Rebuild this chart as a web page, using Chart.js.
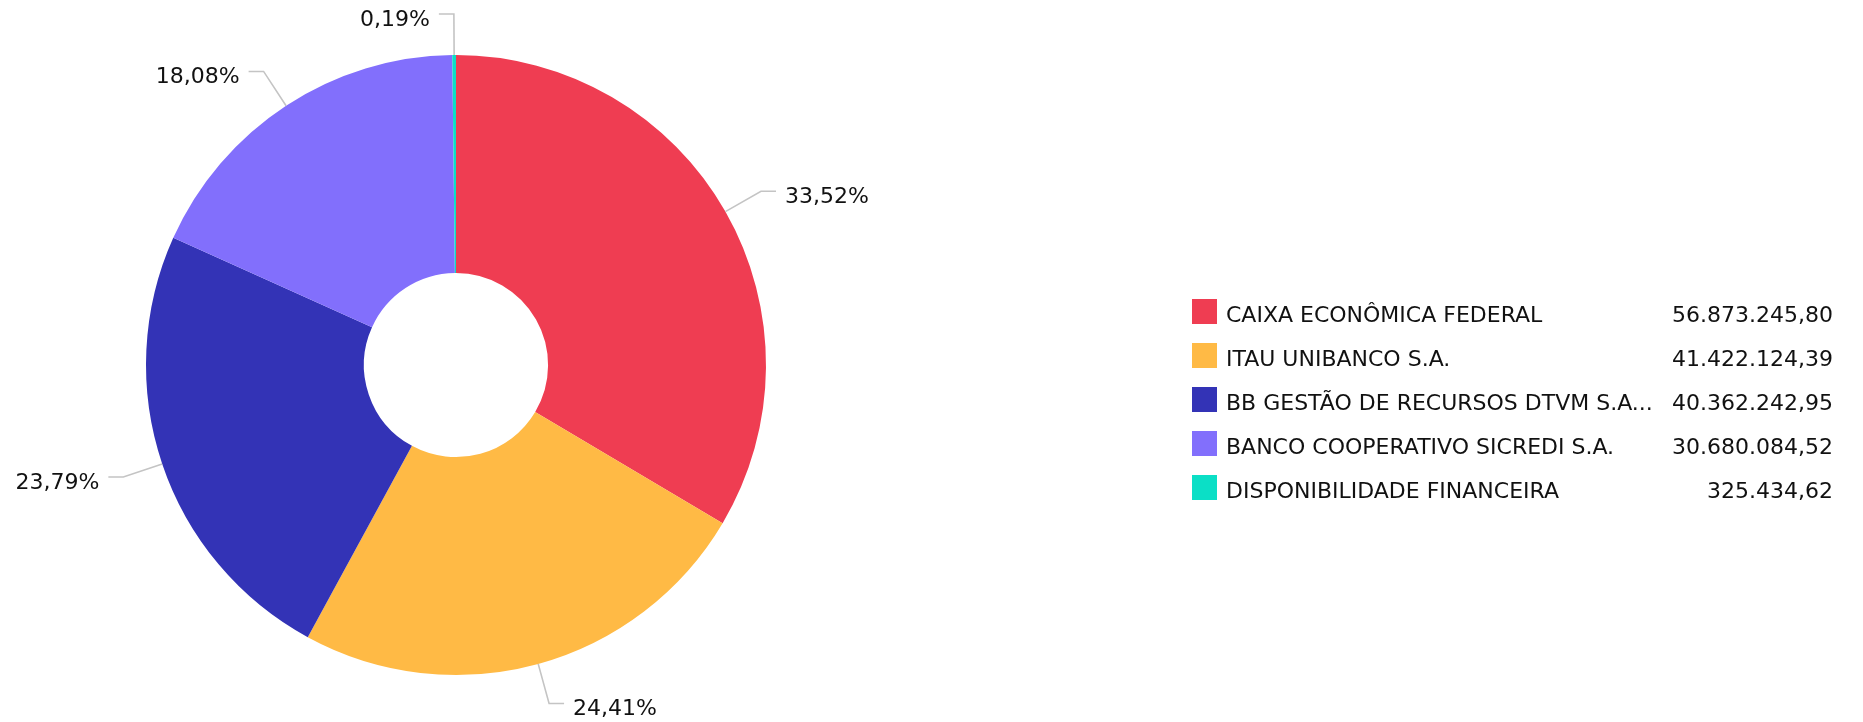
<!DOCTYPE html>
<html>
<head>
<meta charset="utf-8">
<script src="https://cdn.jsdelivr.net/npm/chart.js@4"></script>
<style>
    html, body { margin: 0; padding: 0; background: #fff; }
    #chart { display: block; }
</style>
</head>
<body>
<canvas id="chart" width="1863" height="722"></canvas>
<script>
const categories = [
    'CAIXA ECONÔMICA FEDERAL',
    'ITAU UNIBANCO S.A.',
    'BB GESTÃO DE RECURSOS DTVM S.A...',
    'BANCO COOPERATIVO SICREDI S.A.',
    'DISPONIBILIDADE FINANCEIRA'
];
const amounts = [56873245.80, 41422124.39, 40362242.95, 30680084.52, 325434.62];
const sliceColors = ['#EF3D52', '#FFBA45', '#3333B6', '#826FFC', '#0BDFC6'];

const FONT = '22px "DejaVu Sans", Verdana, sans-serif';
const total = amounts.reduce((a, b) => a + b, 0);

// --- Helper Functions ---
function formatMoney(v) {
    const parts = v.toFixed(2).split('.');
    const intPart = parts[0].replace(/\B(?=(\d{3})+(?!\d))/g, '.');
    return intPart + ',' + parts[1];
}

function formatPercent(v) {
    return (v / total * 100).toFixed(2).replace('.', ',');
}

// outside labels with elbow leader lines
const outerLabels = {
    id: 'outerLabels',
    afterDatasetsDraw(chart) {
        const ctx = chart.ctx;
        const meta = chart.getDatasetMeta(0);
        ctx.save();
        ctx.font = FONT;
        ctx.fillStyle = '#111';
        ctx.strokeStyle = '#c4c4c4';
        ctx.lineWidth = 1.6;
        meta.data.forEach((arc, i) => {
            const p = arc.getProps(['x', 'y', 'startAngle', 'endAngle', 'outerRadius'], true);
            const mid = (p.startAngle + p.endAngle) / 2;
            const cos = Math.cos(mid), sin = Math.sin(mid);
            const x0 = p.x + cos * p.outerRadius;
            const y0 = p.y + sin * p.outerRadius;
            const x1 = p.x + cos * (p.outerRadius + 41);
            const y1 = p.y + sin * (p.outerRadius + 41);
            const dir = cos >= 0 ? 1 : -1;
            const x2 = x1 + dir * 15;
            ctx.beginPath();
            ctx.moveTo(x0, y0);
            ctx.lineTo(x1, y1);
            ctx.lineTo(x2, y1);
            ctx.stroke();
            ctx.textAlign = dir > 0 ? 'left' : 'right';
            ctx.textBaseline = 'alphabetic';
            ctx.fillText(formatPercent(amounts[i]) + '%', x2 + dir * 9, y1 + 12);
        });
        ctx.restore();
    }
};

// legend on the right with values
const valueLegend = {
    id: 'valueLegend',
    afterDraw(chart) {
        const ctx = chart.ctx;
        ctx.save();
        ctx.font = FONT;
        ctx.textBaseline = 'alphabetic';
        categories.forEach((name, i) => {
            const top = 299 + i * 44;
            ctx.fillStyle = sliceColors[i];
            ctx.fillRect(1192, top, 25, 25);
            ctx.fillStyle = '#111';
            ctx.textAlign = 'left';
            ctx.fillText(name, 1226, top + 23);
            ctx.textAlign = 'right';
            ctx.fillText(formatMoney(amounts[i]), 1833, top + 23);
        });
        ctx.restore();
    }
};

new Chart(document.getElementById('chart'), {
    type: 'doughnut',
    data: {
        labels: categories,
        datasets: [{
            data: amounts,
            backgroundColor: sliceColors,
            borderWidth: 0
        }]
    },
    options: {
        responsive: false,
        animation: false,
        cutout: '29.7%',
        layout: {
            padding: { left: 146, right: 1097, top: 55, bottom: 47 }
        },
        plugins: {
            legend: { display: false },
            tooltip: { enabled: false }
        }
    },
    plugins: [outerLabels, valueLegend]
});
</script>
</body>
</html>
